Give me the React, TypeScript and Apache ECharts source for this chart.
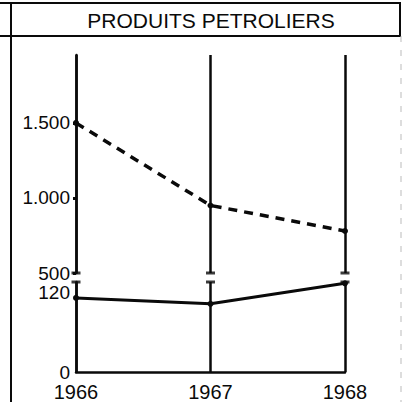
import React, { useEffect, useRef } from "react";
import * as echarts from "echarts";

const years = ["1966", "1967", "1968"];
const upperValues = [1500, 950, 780]; // dashed series (upper scale)
const lowerValues = [112, 103, 134]; // solid series (lower scale)
const upperMin = 500;
const upperMax = 1953;
const upperInterval = 500;
const lowerMin = 0;
const lowerMax = 136;
const lowerInterval = 120;
const titleText = "PRODUITS PETROLIERS";

const FONT = "'Liberation Sans', Arial, Helvetica, sans-serif";
const INK = "#0a0a0a";

const fmt = (v: number) =>
  String(v).replace(/\B(?=(\d{3})+(?!\d))/g, ".");

export default function App() {
  const ref = useRef<HTMLDivElement>(null);
  useEffect(() => {
    if (!ref.current) return;
    const chart = echarts.init(ref.current, undefined, { renderer: "svg" });
    const splitLine = { show: true, lineStyle: { color: INK, width: 2.5 } };
    chart.setOption({
      animation: false,
      backgroundColor: "#fff",
      textStyle: { fontFamily: FONT },
      grid: [
        { left: 76, right: 58, top: 55, bottom: 129 },
        { left: 76, right: 58, top: 282, bottom: 30 },
      ],
      xAxis: [
        {
          type: "category",
          gridIndex: 0,
          data: years,
          boundaryGap: false,
          axisLine: { show: false },
          axisTick: { show: false },
          axisLabel: { show: false },
          splitLine,
        },
        {
          type: "category",
          gridIndex: 1,
          data: years,
          boundaryGap: false,
          axisLine: { show: true, lineStyle: { color: INK, width: 2.5 } },
          axisTick: { show: false },
          axisLabel: {
            show: true,
            color: INK,
            fontSize: 20,
            lineHeight: 16,
            fontFamily: FONT,
            margin: 12,
          },
          splitLine,
        },
      ],
      yAxis: [
        {
          type: "value",
          gridIndex: 0,
          min: upperMin,
          max: upperMax,
          interval: upperInterval,
          axisLine: { show: true, lineStyle: { color: INK, width: 2.5 } },
          axisTick: { show: true, length: 3, lineStyle: { color: INK, width: 3 } },
          axisLabel: {
            color: INK,
            fontSize: 19,
            lineHeight: 16,
            fontFamily: FONT,
            margin: 6,
            showMaxLabel: false,
            formatter: (v: number) => (v % upperInterval === 0 ? fmt(v) : ""),
          },
          splitLine: { show: false },
        },
        {
          type: "value",
          gridIndex: 1,
          min: lowerMin,
          max: lowerMax,
          interval: lowerInterval,
          axisLine: { show: true, lineStyle: { color: INK, width: 2.5 } },
          axisTick: { show: false },
          axisLabel: {
            color: INK,
            fontSize: 19,
            lineHeight: 16,
            fontFamily: FONT,
            margin: 6,
            showMaxLabel: false,
            formatter: (v: number) => (v % lowerInterval === 0 ? fmt(v) : ""),
          },
          splitLine: { show: false },
        },
      ],
      series: [
        {
          type: "line",
          xAxisIndex: 0,
          yAxisIndex: 0,
          data: upperValues,
          symbol: "circle",
          symbolSize: 6,
          itemStyle: { color: INK },
          lineStyle: { color: INK, width: 3.5, type: [9, 7] },
          z: 5,
        },
        {
          type: "line",
          xAxisIndex: 1,
          yAxisIndex: 1,
          data: lowerValues,
          symbol: "circle",
          symbolSize: 6,
          itemStyle: { color: INK },
          lineStyle: { color: INK, width: 3 },
          z: 5,
        },
        {
          type: "scatter",
          xAxisIndex: 0,
          yAxisIndex: 0,
          data: years.map((_, i) => [i, upperMin]),
          symbol: "rect",
          symbolSize: [9, 3],
          itemStyle: { color: INK },
          z: 6,
        },
        {
          type: "scatter",
          xAxisIndex: 1,
          yAxisIndex: 1,
          data: years.map((_, i) => [i, lowerMax]),
          symbol: "rect",
          symbolSize: [9, 3],
          itemStyle: { color: INK },
          z: 6,
        },
      ],
      graphic: [
        { type: "line", shape: { x1: 0, y1: 3, x2: 401, y2: 3 }, style: { stroke: INK, lineWidth: 2 } },
        { type: "line", shape: { x1: 0, y1: 36, x2: 401, y2: 36 }, style: { stroke: INK, lineWidth: 2 } },
        { type: "line", shape: { x1: 11, y1: 3, x2: 11, y2: 402 }, style: { stroke: INK, lineWidth: 2 } },
        { type: "line", shape: { x1: 400, y1: 3, x2: 400, y2: 36 }, style: { stroke: INK, lineWidth: 2 } },
        { type: "line", shape: { x1: 401, y1: 36, x2: 401, y2: 402 }, style: { stroke: "#bbb", lineWidth: 1, lineDash: [6, 8] } },
        {
          type: "text",
          x: 211,
          y: 20,
          style: {
            text: titleText,
            fill: INK,
            font: `21px ${FONT}`,
            textAlign: "center",
            textVerticalAlign: "middle",
            verticalAlign: "middle",
          },
        },
      ],
    });
    return () => chart.dispose();
  }, []);
  return (
    <div
      ref={ref}
      style={{ position: "fixed", left: 0, top: 0, width: 403, height: 402 }}
    />
  );
}
